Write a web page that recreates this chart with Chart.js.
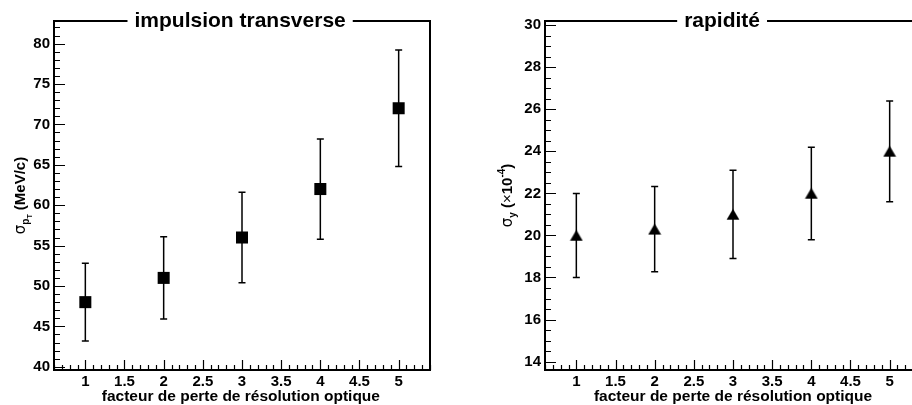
<!DOCTYPE html>
<html><head><meta charset="utf-8">
<script src="https://cdn.jsdelivr.net/npm/chart.js@4"></script>
<style>
html,body{margin:0;padding:0;background:#fff;overflow:hidden;width:912px;height:405px;position:relative;}
#l{position:absolute;left:0;top:0;width:456px;height:405px;}
#r{position:absolute;left:456px;top:0;width:490px;height:405px;}
</style></head><body>
<div id="l"><canvas id="cl"></canvas></div>
<div id="r"><canvas id="cr"></canvas></div>
<script>
// ---- data ----
const factors = [1, 2, 3, 4, 5];
const sigmaPt = [48, 51, 56, 62, 72];
const sigmaPtErr = [4.8, 5.1, 5.6, 6.2, 7.2];
const sigmaY = [20, 20.3, 21, 22, 24];
const sigmaYErr = [2, 2.03, 2.1, 2.2, 2.4];
const xTickLabels = [1, 1.5, 2, 2.5, 3, 3.5, 4, 4.5, 5];
const ptTickLabels = [40, 45, 50, 55, 60, 65, 70, 75, 80];
const yTickLabels = [14, 16, 18, 20, 22, 24, 26, 28, 30];
const titleLeft = 'impulsion transverse';
const titleRight = 'rapidité';
const xTitle = 'facteur de perte de résolution optique';

const FONT = '"Liberation Sans", Arial, Helvetica, sans-serif';

// ROOT-like filled triangle marker, centred on its bounding box
const triMarker = document.createElement('canvas');
triMarker.width = 14; triMarker.height = 12;
(function () {
  const c = triMarker.getContext('2d');
  c.fillStyle = '#000';
  c.beginPath();
  c.moveTo(7, 0.5); c.lineTo(13.5, 11.5); c.lineTo(0.5, 11.5); c.closePath();
  c.fill();
})();

function drawRich(ctx, parts, cx, cy, rotate) {
  ctx.save();
  ctx.translate(cx, cy);
  if (rotate) ctx.rotate(-Math.PI / 2);
  let total = 0;
  parts.forEach(p => { ctx.font = p.font; p.w = ctx.measureText(p.t).width; total += p.w; });
  let x = -total / 2;
  ctx.fillStyle = '#000';
  ctx.textBaseline = 'alphabetic';
  ctx.textAlign = 'left';
  parts.forEach(p => { ctx.font = p.font; ctx.fillText(p.t, x, p.dy || 0); x += p.w; });
  ctx.restore();
}

const rootPlugin = {
  id: 'rootStyle',
  beforeDatasetsDraw(chart, args, o) {
    const { ctx, scales: { x, y } } = chart;
    ctx.save();
    ctx.strokeStyle = '#000';
    ctx.lineWidth = 1.5;
    o.vals.forEach((v, i) => {
      const px = x.getPixelForValue(o.xs[i]);
      const top = y.getPixelForValue(v + o.errs[i]);
      const bot = y.getPixelForValue(v - o.errs[i]);
      ctx.beginPath();
      ctx.moveTo(px, top); ctx.lineTo(px, bot);
      ctx.moveTo(px - 3.5, top); ctx.lineTo(px + 3.5, top);
      ctx.moveTo(px - 3.5, bot); ctx.lineTo(px + 3.5, bot);
      ctx.stroke();
    });
    ctx.restore();
  },
  afterDraw(chart, args, o) {
    const { ctx, chartArea: a, scales: { x, y } } = chart;
    ctx.save();
    ctx.strokeStyle = '#000';
    ctx.lineWidth = 1.2;
    // x ticks (inside, upward)
    ctx.beginPath();
    for (let k = Math.ceil(x.min * 10 - 1e-6); k <= Math.floor(x.max * 10 + 1e-6); k++) {
      const v = k / 10;
      const px = Math.round(x.getPixelForValue(v)) + 0.5;
      const major = Math.abs(v * 2 - Math.round(v * 2)) < 1e-6;
      ctx.moveTo(px, a.bottom);
      ctx.lineTo(px, a.bottom - (major ? 10 : 5));
    }
    // y ticks (inside, rightward)
    for (let k = Math.ceil(y.min / o.yMinor - 1e-6); k <= Math.floor(y.max / o.yMinor + 1e-6); k++) {
      const v = k * o.yMinor;
      const py = Math.round(y.getPixelForValue(v)) + 0.5;
      const major = Math.abs(v / o.yMajor - Math.round(v / o.yMajor)) < 1e-6;
      ctx.moveTo(a.left, py);
      ctx.lineTo(a.left + (major ? 11 : 6), py);
    }
    ctx.stroke();
    // frame
    ctx.lineWidth = 2;
    ctx.beginPath();
    ctx.moveTo(a.left, a.top); ctx.lineTo(a.right, a.top); ctx.lineTo(a.right, a.bottom);
    ctx.stroke();
    // title with gap in frame
    ctx.font = 'bold 21px ' + FONT;
    const tw = ctx.measureText(o.title).width;
    const tx = a.left + o.titleFrac * (a.right - a.left);
    ctx.fillStyle = '#fff';
    ctx.fillRect(tx - tw / 2 - 7, a.top - 3, tw + 14, 6);
    ctx.fillStyle = '#000';
    ctx.textAlign = 'center';
    ctx.textBaseline = 'alphabetic';
    ctx.fillText(o.title, tx, a.top + 6);
    // x-axis title
    ctx.font = 'bold 15.5px ' + FONT;
    ctx.fillText(xTitle, a.left + o.xTitleFrac * (a.right - a.left), a.bottom + 31);
    ctx.restore();
    // y-axis title
    drawRich(ctx, o.yTitle, a.left - o.yTitleOff, (a.top + a.bottom) / 2 + o.yTitleDy, true);
  }
};

const tickFont = { family: FONT, size: 15, weight: 'bold' };

function makeChart(id, vals, errs, style, radius, ymin, ymax, yTicks, yW, rightPad, plugOpts) {
  return new Chart(document.getElementById(id), {
    type: 'scatter',
    data: {
      datasets: [{
        data: factors.map((f, i) => ({ x: f, y: vals[i] })),
        pointStyle: style,
        pointRadius: radius,
        pointHoverRadius: radius,
        backgroundColor: '#000',
        borderColor: '#000',
        borderWidth: 0
      }]
    },
    options: {
      responsive: true,
      maintainAspectRatio: false,
      animation: false,
      events: [],
      layout: { padding: { top: 21, right: rightPad, left: 0, bottom: 0 } },
      plugins: {
        legend: { display: false },
        tooltip: { enabled: false },
        rootStyle: Object.assign({ vals: vals, errs: errs, xs: factors }, plugOpts)
      },
      scales: {
        x: {
          type: 'linear', min: 0.6, max: 5.4,
          afterBuildTicks: s => { s.ticks = xTickLabels.map(v => ({ value: v })); },
          afterFit: s => { s.height = 35; },
          ticks: { font: tickFont, color: '#000', padding: 3, maxRotation: 0, autoSkip: false,
                   callback: v => String(v) },
          grid: { display: false, drawTicks: false },
          border: { display: true, color: '#000', width: 2 }
        },
        y: {
          type: 'linear', min: ymin, max: ymax,
          afterBuildTicks: s => { s.ticks = yTicks.map(v => ({ value: v })); },
          afterFit: s => { s.width = yW; },
          ticks: { font: tickFont, color: '#000', padding: 4, autoSkip: false,
                   callback: v => String(v) },
          grid: { display: false, drawTicks: false },
          border: { display: true, color: '#000', width: 2 }
        }
      }
    },
    plugins: [rootPlugin]
  });
}

makeChart('cl', sigmaPt, sigmaPtErr, 'rect', 8.5, 39.6, 82.8, ptTickLabels, 54, 26, {
  yMinor: 1, yMajor: 5, title: titleLeft, titleFrac: 0.495, xTitleFrac: 0.497,
  yTitleOff: 29, yTitleDy: 0,
  yTitle: [
    { t: 'σ', font: '15px "DejaVu Sans", sans-serif' },
    { t: 'p', font: 'bold 10px ' + FONT, dy: 4 },
    { t: 'T', font: 'bold 7px ' + FONT, dy: 7 },
    { t: ' (MeV/c)', font: 'bold 15px ' + FONT }
  ]
});

makeChart('cr', sigmaY, sigmaYErr, triMarker, 7, 13.6, 30.2, yTickLabels, 89, 25, {
  yMinor: 0.5, yMajor: 2, title: titleRight, titleFrac: 0.471, xTitleFrac: 0.5,
  yTitleOff: 33, yTitleDy: 0,
  yTitle: [
    { t: 'σ', font: '15px "DejaVu Sans", sans-serif' },
    { t: 'y', font: 'bold 10px ' + FONT, dy: 4 },
    { t: ' (', font: 'bold 15px ' + FONT },
    { t: '×', font: '15px ' + FONT },
    { t: '10', font: 'bold 15px ' + FONT },
    { t: '-4', font: 'bold 10px ' + FONT, dy: -7 },
    { t: ')', font: 'bold 15px ' + FONT }
  ]
});
</script>
</body></html>
